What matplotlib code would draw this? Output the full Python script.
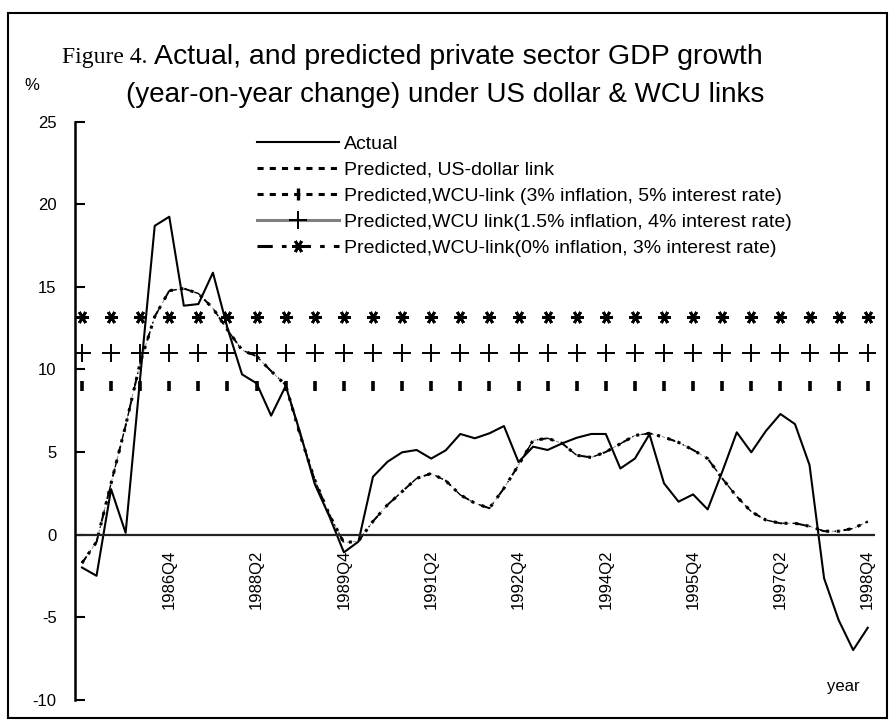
import matplotlib.pyplot as plt
import numpy as np
from matplotlib.patches import Rectangle

plt.rcParams['font.family'] = ['Liberation Sans', 'DejaVu Sans']
plt.rcParams['axes.unicode_minus'] = False

# quarters 1985Q2 .. 1998Q4
quarters = [f"{1985 + (q + 1) // 4}Q{(q + 1) % 4 + 1}" for q in range(55)]
tick_labels = ["1986Q4", "1988Q2", "1989Q4", "1991Q2", "1992Q4",
               "1994Q2", "1995Q4", "1997Q2", "1998Q4"]

actual = [-2.0, -2.5, 2.75, 0.1, 9.5, 18.7, 19.25, 13.86, 13.96, 15.86,
          12.5, 9.7, 9.16, 7.2, 9.0, 6.15, 3.05, 1.1, -1.08, -0.43,
          3.5, 4.41, 4.98, 5.12, 4.6, 5.1, 6.09, 5.83, 6.13, 6.57,
          4.39, 5.32, 5.12, 5.52, 5.86, 6.09, 6.09, 4.0, 4.6, 6.07,
          3.1, 1.99, 2.43, 1.52, 3.8, 6.19, 4.98, 6.27, 7.3, 6.69,
          4.21, -2.65, -5.18, -7.0, -5.65]

pred_usd = [-1.73, -0.45, 3.1, 6.6, 10.4, 13.2, 14.77, 14.9, 14.6, 13.7,
            12.4, 11.17, 10.8, 9.9, 9.05, 6.0, 3.3, 1.2, -0.5, -0.4,
            0.8, 1.8, 2.6, 3.4, 3.7, 3.26, 2.4, 1.9, 1.59, 2.8,
            4.2, 5.7, 5.83, 5.52, 4.8, 4.67, 5.0, 5.5, 6.0, 6.13,
            5.9, 5.58, 5.12, 4.6, 3.4, 2.3, 1.38, 0.88, 0.68, 0.68,
            0.5, 0.2, 0.2, 0.37, 0.78]

pred_wcu3 = list(pred_usd)
pred_wcu15 = list(pred_usd)
pred_wcu0 = list(pred_usd)

# constant marker rows (every other quarter)
row_star = 13.2
row_plus = 11.0
row_bar = 9.0

labels = ["Actual", "Predicted, US-dollar link",
          "Predicted,WCU-link (3% inflation, 5% interest rate)",
          "Predicted,WCU link(1.5% inflation, 4% interest rate)",
          "Predicted,WCU-link(0% inflation, 3% interest rate)"]

W, H = 892, 724
fig = plt.figure(figsize=(W / 100, H / 100), dpi=100)
fig.patches.append(Rectangle((8 / W, 1 - 718 / H), 879 / W, 705 / H,
                             transform=fig.transFigure, fill=False,
                             edgecolor='black', linewidth=1.5))

ax = fig.add_axes([74.7 / W, 1 - 699.6 / H, 800.3 / W, 577.8 / H])
x = np.arange(len(quarters))

ax.plot(x, pred_wcu15, color='gray', lw=0.6, ls=(0, (4, 3)))
ax.plot(x, pred_wcu3, color='black', lw=1.4, ls=(0, (4, 8)))
ax.plot(x, pred_wcu0, color='black', lw=1.0, ls=(2, (6, 6, 1, 6)))
ax.plot(x, pred_usd, color='black', lw=2.2, ls=(0, (1, 2.5)))
ax.plot(x, actual, color='black', lw=1.5)

xm = x[::2]
ax.plot(xm, [row_star] * len(xm), ls='none', marker=(6, 2, 90),
        ms=9, mec='black', mew=2)
ax.plot(xm, [row_plus] * len(xm), ls='none', marker='+',
        ms=13, mec='black', mew=1.4)
ax.plot(xm, [row_bar] * len(xm), ls='none', marker='|',
        ms=7, mec='black', mew=2.6)

ax.axhline(0, color='#222222', lw=1.6)
ax.set_xlim(-0.5, len(quarters) - 0.5)
ax.set_ylim(-10, 25)
ax.set_yticks(range(-10, 30, 5))
ax.tick_params(axis='y', direction='in', length=7, width=1.5, pad=13,
               labelsize=12)
ax.set_xticks([])
for s in ['top', 'right', 'bottom']:
    ax.spines[s].set_visible(False)
ax.spines['left'].set_linewidth(1.8)

for lab in tick_labels:
    i = quarters.index(lab)
    ax.text(i, -0.9, lab, rotation=90, ha='center', va='top', fontsize=12)

# legend
h_act, = ax.plot([], [], color='black', lw=1.5)
h_usd, = ax.plot([], [], color='black', lw=2.2, ls=(0, (2, 2)))
h_w3, = ax.plot([], [], color='black', lw=2.2, ls=(0, (2, 2)),
                marker='|', ms=8, mew=2.4)
h_w15, = ax.plot([], [], color='gray', lw=2.2, marker='+', ms=13,
                 mec='black', mew=1.4)
h_w0, = ax.plot([], [], color='black', lw=2.2, ls=(0, (5, 3, 1.5, 3)),
                marker=(6, 2, 90), ms=9, mew=2)
fig.legend([h_act, h_usd, h_w3, h_w15, h_w0], labels,
           loc='upper left', bbox_to_anchor=(257 / W, 1 - 135 / H),
           frameon=False, fontsize=14, handlelength=4.2, handletextpad=0.25,
           borderpad=0, borderaxespad=0, labelspacing=0.44, numpoints=1)

fig.text(62 / W, 1 - 57 / H, "Figure 4.", fontsize=17,
         family=['Liberation Serif', 'DejaVu Serif'], ha='left', va='center')
fig.text(154 / W, 1 - 57 / H,
         "Actual, and predicted private sector GDP growth",
         fontsize=20.5, ha='left', va='center')
fig.text(445 / W, 1 - 95 / H,
         "(year-on-year change) under US dollar & WCU links",
         fontsize=20, ha='center', va='center')
fig.text(32 / W, 1 - 85 / H, "%", fontsize=12, ha='center', va='center')
fig.text(843 / W, 1 - 686 / H, "year", fontsize=12, ha='center',
         va='center')

fig.savefig("out.png", dpi=100)
